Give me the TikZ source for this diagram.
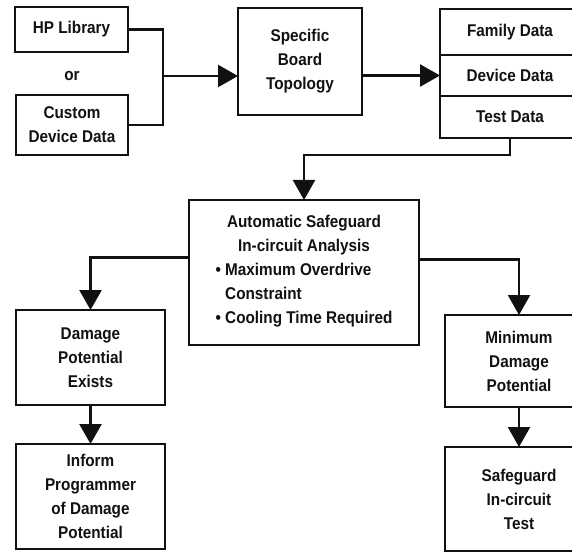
\documentclass[tikz,border=0pt]{standalone}
\usepackage{fontspec}
\setmainfont{Liberation Sans}[FakeStretch=0.9]
\usepackage{xcolor}
\usepackage{tikz}
\usetikzlibrary{positioning,arrows.meta}
\definecolor{ink}{HTML}{111111}
\newcommand{\boxfont}{\bfseries\fontsize{17}{24}\selectfont}
\tikzset{
  % --- process boxes ---
  flowbox/.style={draw=ink, line width=2.4pt, align=center, inner sep=2pt,
                  outer sep=0pt, font=\boxfont, text=ink},
  % --- connectors ---
  flowline/.style={line width=2.4pt, draw=ink},
  flowarrow/.style={flowline, -{Triangle[length=20pt,width=22pt]}},
}
\begin{document}
\begin{tikzpicture}[x=1pt, y=-1pt]
  \useasboundingbox (0,0) rectangle (572,553);
  \clip (0,0) rectangle (572,553);
  % sources
  \node[flowbox, minimum width=113pt, minimum height=45pt] (hplib) at (71.5,29.5) {HP Library};
  \node[font=\boxfont, text=ink] (ortext) at (72,76) {or};
  \node[flowbox, minimum width=112pt, minimum height=60pt] (custom) at (72,125) {Custom\\Device Data};
  \node[flowbox, minimum width=124pt, minimum height=107pt] (topology) at (300,61.5) {Specific\\Board\\Topology};
  % data stack
  \node[flowbox, minimum width=140pt, minimum height=46pt] (family) at (510,32) {Family Data};
  \node[flowbox, minimum width=140pt, minimum height=41pt, below=0pt of family] (device) {Device Data};
  \node[flowbox, minimum width=140pt, minimum height=42pt, below=0pt of device] (testdata) {Test Data};
  % analysis
  \node[flowbox, minimum width=230pt, minimum height=145pt] (analysis) at (304,272.5)
    {Automatic Safeguard\\In-circuit Analysis\\
     \begin{tabular}[t]{@{}l@{}}
       • Maximum Overdrive\\
       \phantom{• }Constraint\\
       • Cooling Time Required
     \end{tabular}};
  % outcomes
  \node[flowbox, minimum width=149pt, minimum height=95pt] (damage) at (90.5,357.5) {Damage\\Potential\\Exists};
  \node[flowbox, minimum width=149pt, minimum height=105pt] (inform) at (90.5,496.5) {Inform\\Programmer\\of Damage\\Potential};
  \node[flowbox, minimum width=148pt, minimum height=92pt] (minimum) at (519,361) {Minimum\\Damage\\Potential};
  \node[flowbox, minimum width=148pt, minimum height=104pt] (safeguard) at (519,499) {Safeguard\\In-circuit\\Test};
  % connectors
  \coordinate (join) at (163,76);
  \draw[flowline] (hplib.east) -| (join);
  \draw[flowline] (custom.east) -| (join);
  \draw[flowarrow] (join) -- (join -| topology.west);
  \draw[flowarrow] (device.west -| topology.east) -- (device.west);
  \draw[flowarrow] (testdata.south) -- ++(0,17) -| (analysis.north);
  \draw[flowarrow] ([yshift=15pt]analysis.west) -| (damage.north);
  \draw[flowarrow] ([yshift=13pt]analysis.east) -| (minimum.north);
  \draw[flowarrow] (damage.south) -- (inform.north);
  \draw[flowarrow] (minimum.south) -- (safeguard.north);
\end{tikzpicture}
\end{document}
